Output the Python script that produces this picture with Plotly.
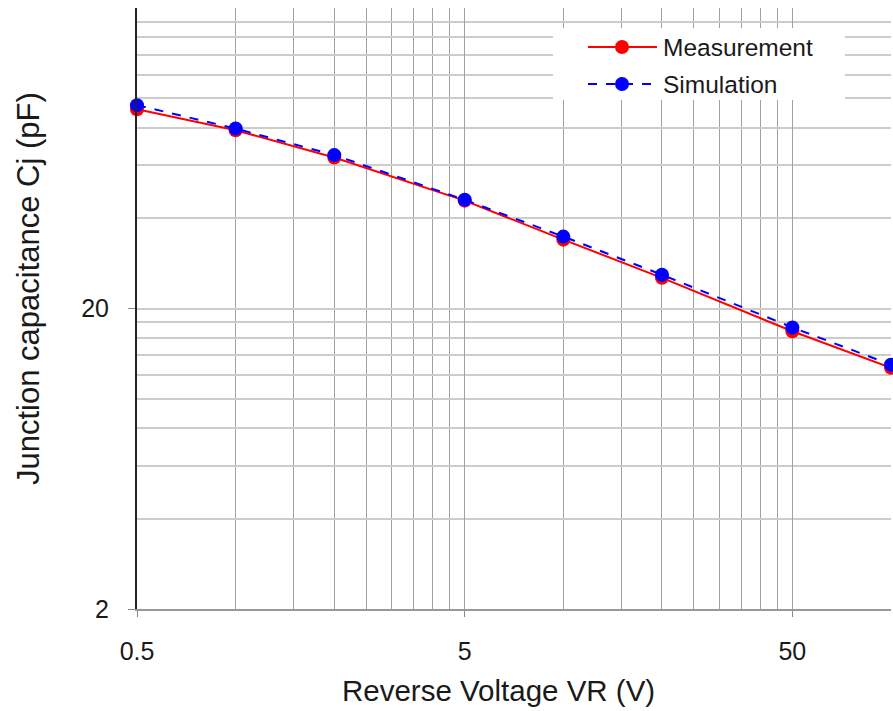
import plotly.graph_objects as go

# Data
voltage = [0.5, 1, 2, 5, 10, 20, 50, 100]
measurement = [92.0, 78.4, 63.6, 45.7, 33.9, 25.3, 16.8, 12.7]
simulation = [95.0, 79.4, 64.8, 46.0, 34.7, 25.9, 17.3, 13.0]

x_ticks = [0.5, 5, 50]
x_tick_labels = ["0.5", "5", "50"]
y_ticks = [2, 20]
y_tick_labels = ["2", "20"]
x_minor = [0.5 * k for k in range(1, 11)] + [5 * k for k in range(2, 11)] + [100]
y_minor = [2 * k for k in range(1, 11)] + [20 * k for k in range(2, 11)]

FONT = "Liberation Sans, Arial, sans-serif"
TXT = "#1a1a1a"

fig = go.Figure()
fig.add_trace(go.Scatter(x=voltage, y=measurement, mode="lines+markers", name="Measurement",
                         line=dict(color="#ff0000", width=2),
                         marker=dict(color="#ff0000", size=14), cliponaxis=False))
fig.add_trace(go.Scatter(x=voltage, y=simulation, mode="lines+markers", name="Simulation",
                         line=dict(color="#0000ff", width=2, dash="dash"),
                         marker=dict(color="#0000ff", size=14), cliponaxis=False))

fig.update_layout(
    width=893, height=711,
    margin=dict(l=137, r=2, t=8, b=102),
    paper_bgcolor="white", plot_bgcolor="white",
    showlegend=False,
    font=dict(family=FONT, color=TXT),
    xaxis=dict(type="log", range=[-0.30103, 2.0],
               tickmode="array", tickvals=x_ticks, ticktext=x_tick_labels,
               ticks="outside", ticklen=6, tickcolor="#888", tickwidth=1,
               tickfont=dict(size=25, color=TXT), ticklabelstandoff=13,
               showgrid=True, gridcolor="#a0a0a0", gridwidth=1,
               showline=True, linecolor="#999", linewidth=2,
               minor=dict(tickmode="array", tickvals=x_minor, showgrid=True,
                          gridcolor="#a0a0a0", gridwidth=1, ticklen=0),
               zeroline=False),
    yaxis=dict(type="log", range=[0.30103, 2.30103],
               tickmode="array", tickvals=y_ticks, ticktext=y_tick_labels,
               ticks="outside", ticklen=7, tickcolor="#888", tickwidth=1,
               tickfont=dict(size=25, color=TXT), ticklabelstandoff=14,
               showgrid=True, gridcolor="#cccccc", gridwidth=2,
               showline=True, linecolor="#222", linewidth=2,
               minor=dict(tickmode="array", tickvals=y_minor, showgrid=True,
                          gridcolor="#cccccc", gridwidth=2, ticklen=0),
               zeroline=False),
)

# Axis titles as annotations
fig.add_annotation(text="Reverse Voltage VR (V)", xref="paper", yref="paper",
                   x=0.480, y=-0.1348, xanchor="center", yanchor="middle",
                   showarrow=False, font=dict(size=29.5, color=TXT))
fig.add_annotation(text="Junction capacitance Cj (pF)", xref="paper", yref="paper",
                   x=-0.1446, y=0.534, xanchor="center", yanchor="middle", textangle=-90,
                   showarrow=False, font=dict(size=31, color=TXT))

# Custom legend
def px2x(p):
    return (p - 137) / 754

def py2y(p):
    return (609 - p) / 601

fig.add_shape(type="rect", xref="paper", yref="paper",
              x0=px2x(553), x1=px2x(845), y0=py2y(100), y1=py2y(28),
              fillcolor="white", line=dict(width=0), layer="above")
legend_items = [("Measurement", "#ff0000", "solid", 47), ("Simulation", "#0000ff", "dash", 84)]
for name, color, dash, yy in legend_items:
    fig.add_shape(type="line", xref="paper", yref="paper",
                  x0=px2x(588), x1=px2x(657), y0=py2y(yy), y1=py2y(yy),
                  line=dict(color=color, width=2, dash=dash), layer="above")
    fig.add_shape(type="circle", xref="paper", yref="paper",
                  xsizemode="pixel", ysizemode="pixel",
                  xanchor=px2x(622), yanchor=py2y(yy),
                  x0=-7, x1=7, y0=-7, y1=7,
                  fillcolor=color, line=dict(color=color, width=0), layer="above")
    fig.add_annotation(text=name, xref="paper", yref="paper",
                       x=px2x(661), y=py2y(yy), xanchor="left", yanchor="middle",
                       showarrow=False, font=dict(size=24.5, color=TXT))

fig.write_html("out.html")
